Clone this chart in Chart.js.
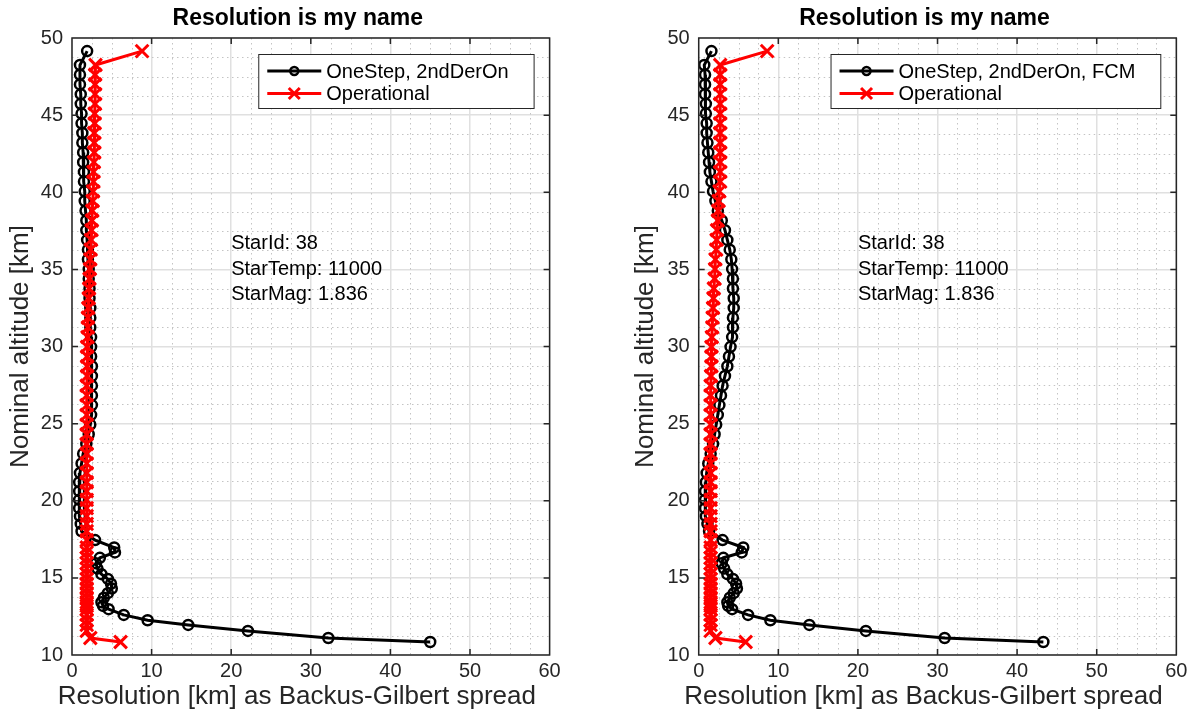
<!DOCTYPE html>
<html lang="en">
<head>
<meta charset="UTF-8">
<title>Resolution is my name</title>
<script src="https://cdn.jsdelivr.net/npm/chart.js@4.4.0/dist/chart.umd.min.js"></script>
<style>
  html, body { margin: 0; padding: 0; background: #fff; }
  .wrap { display: flex; width: 1192px; height: 718px; }
  .panel { width: 596px; height: 718px; }
</style>
</head>
<body>
<div class="wrap">
  <div class="panel"><canvas id="left" width="596" height="718"></canvas></div>
  <div class="panel"><canvas id="right" width="596" height="718"></canvas></div>
</div>
<script>
// tangent altitude grid [km], shared by both retrievals
const altitude = [49.15, 48.25, 47.62, 46.99, 46.36, 45.73, 45.10, 44.47, 43.84, 43.21,
  42.58, 41.95, 41.32, 40.69, 40.06, 39.43, 38.80, 38.17, 37.54, 36.91,
  36.28, 35.65, 35.02, 34.39, 33.76, 33.13, 32.50, 31.87, 31.24, 30.61,
  29.98, 29.35, 28.72, 28.09, 27.46, 26.83, 26.20, 25.57, 24.94, 24.31,
  23.68, 23.05, 22.42, 21.80, 21.20, 20.62, 20.06, 19.52, 19.00, 18.50,
  18.02, 17.45, 16.97, 16.65, 16.30, 15.95, 15.60, 15.24, 14.93, 14.62,
  14.31, 14.01, 13.71, 13.42, 13.18, 12.97, 12.60, 12.25, 11.95, 11.56,
  11.10, 10.84];

// resolution [km], left panel
const oneStepLeft = [1.9, 1.0, 1.0, 1.0, 1.1, 1.1, 1.2, 1.2, 1.3, 1.3,
  1.4, 1.4, 1.5, 1.5, 1.6, 1.6, 1.7, 1.8, 1.8, 1.9,
  2.0, 2.0, 2.1, 2.1, 2.2, 2.2, 2.3, 2.3, 2.3, 2.4,
  2.4, 2.4, 2.5, 2.5, 2.5, 2.5, 2.5, 2.4, 2.3, 2.1,
  1.8, 1.4, 1.2, 1.0, 0.9, 0.9, 0.9, 0.9, 1.0, 1.1,
  1.2, 2.9, 5.3, 5.4, 3.5, 3.0, 3.2, 3.7, 4.5, 4.9,
  5.0, 4.5, 4.0, 3.7, 3.9, 4.6, 6.5, 9.5, 14.6, 22.1,
  32.2, 45.0];
const operationalLeft = [8.8, 2.95, 2.9, 2.9, 2.9, 2.9, 2.85, 2.85, 2.8, 2.8,
  2.8, 2.75, 2.7, 2.7, 2.65, 2.6, 2.55, 2.5, 2.45, 2.4,
  2.35, 2.3, 2.25, 2.2, 2.15, 2.1, 2.05, 2.0, 2.0, 1.95,
  1.9, 1.9, 1.9, 1.9, 1.85, 1.85, 1.85, 1.85, 1.85, 1.85,
  1.85, 1.85, 1.85, 1.85, 1.85, 1.85, 1.85, 1.85, 1.85, 1.85,
  1.85, 1.85, 1.85, 1.85, 1.85, 1.85, 1.85, 1.85, 1.85, 1.85,
  1.85, 1.85, 1.85, 1.85, 1.85, 1.85, 1.85, 1.85, 1.85, 1.85,
  2.3, 6.1];

// resolution [km], right panel (FCM)
const oneStepRight = [1.6, 0.7, 0.8, 0.8, 0.8, 0.9, 0.9, 1.0, 1.0, 1.1,
  1.2, 1.3, 1.4, 1.6, 1.8, 2.1, 2.4, 2.9, 3.3, 3.6,
  3.9, 4.1, 4.2, 4.3, 4.3, 4.4, 4.4, 4.3, 4.3, 4.2,
  4.0, 3.8, 3.6, 3.3, 3.0, 2.8, 2.6, 2.4, 2.2, 2.0,
  1.8, 1.5, 1.2, 1.0, 0.9, 0.8, 0.8, 0.8, 0.9, 1.1,
  1.3, 3.0, 5.6, 5.4, 3.1, 2.9, 3.2, 3.6, 4.3, 4.7,
  4.8, 4.4, 3.9, 3.6, 3.7, 4.2, 6.2, 9.0, 13.9, 21.0,
  30.9, 43.3];
const operationalRight = [8.6, 2.7, 2.7, 2.7, 2.7, 2.7, 2.7, 2.7, 2.7, 2.7,
  2.7, 2.7, 2.7, 2.7, 2.6, 2.5, 2.45, 2.4, 2.3, 2.25,
  2.2, 2.1, 2.05, 2.0, 1.9, 1.85, 1.8, 1.75, 1.7, 1.65,
  1.6, 1.6, 1.6, 1.55, 1.5, 1.5, 1.5, 1.5, 1.5, 1.5,
  1.5, 1.5, 1.5, 1.5, 1.5, 1.5, 1.5, 1.5, 1.5, 1.5,
  1.5, 1.5, 1.5, 1.5, 1.5, 1.5, 1.5, 1.5, 1.5, 1.5,
  1.5, 1.5, 1.5, 1.5, 1.5, 1.5, 1.5, 1.5, 1.5, 1.5,
  2.1, 5.9];

const xRange = [0, 60];
const yRange = [10, 50];
const xMajor = 10, yMajor = 5;
const starInfo = ['StarId: 38', 'StarTemp: 11000', 'StarMag: 1.836'];
const plotTitle = 'Resolution is my name';
const xTitle = 'Resolution [km] as Backus-Gilbert spread';
const yTitle = 'Nominal altitude [km]';

const FONT = '"Liberation Sans", Arial, Helvetica, sans-serif';
const AX = '#262626';

function toPoints(xs) {
  return xs.map((x, i) => ({ x: x, y: altitude[i] }));
}

// minor grid, box with inward ticks, title, x label, text and legend
const matlabAxes = {
  id: 'matlabAxes',
  beforeDatasetsDraw(chart) {
    const { ctx, chartArea: a, scales: { x, y } } = chart;
    ctx.save();
    ctx.strokeStyle = '#c4c4c4';
    ctx.lineWidth = 1;
    ctx.setLineDash([1.5, 3.5]);
    ctx.beginPath();
    for (let v = xRange[0]; v <= xRange[1]; v += xMajor / 4) {
      if (v % xMajor === 0) continue;
      const px = Math.round(x.getPixelForValue(v)) + 0.5;
      ctx.moveTo(px, a.top); ctx.lineTo(px, a.bottom);
    }
    for (let v = yRange[0]; v <= yRange[1]; v += yMajor / 4) {
      if (v % yMajor === 0) continue;
      const py = Math.round(y.getPixelForValue(v)) + 0.5;
      ctx.moveTo(a.left, py); ctx.lineTo(a.right, py);
    }
    ctx.stroke();
    ctx.restore();
  },
  afterDatasetsDraw(chart, args, opts) {
    const { ctx, chartArea: a, scales: { x, y } } = chart;
    ctx.save();
    // box and ticks
    ctx.strokeStyle = AX;
    ctx.lineWidth = 1.5;
    ctx.strokeRect(a.left, a.top, a.right - a.left, a.bottom - a.top);
    ctx.beginPath();
    for (let v = xRange[0] + xMajor; v < xRange[1]; v += xMajor) {
      const px = x.getPixelForValue(v);
      ctx.moveTo(px, a.bottom); ctx.lineTo(px, a.bottom - 6);
      ctx.moveTo(px, a.top); ctx.lineTo(px, a.top + 6);
    }
    for (let v = yRange[0] + yMajor; v < yRange[1]; v += yMajor) {
      const py = y.getPixelForValue(v);
      ctx.moveTo(a.left, py); ctx.lineTo(a.left + 6, py);
      ctx.moveTo(a.right, py); ctx.lineTo(a.right - 6, py);
    }
    ctx.stroke();

    const mid = (a.left + a.right) / 2;
    // title
    ctx.fillStyle = '#000';
    ctx.font = `bold 23px ${FONT}`;
    ctx.textAlign = 'center';
    ctx.textBaseline = 'middle';
    ctx.fillText(plotTitle, mid + opts.titleShift, 19);

    // x label
    ctx.fillStyle = AX;
    ctx.font = `26px ${FONT}`;
    ctx.fillText(xTitle, mid + opts.labelShift, 697);

    // star information
    ctx.fillStyle = '#000';
    ctx.font = `20px ${FONT}`;
    ctx.textAlign = 'left';
    const tx = x.getPixelForValue(20), ty = y.getPixelForValue(35);
    starInfo.forEach((s, i) => ctx.fillText(s, tx, ty + (i - 1) * 25.5));

    // legend
    const sets = chart.data.datasets;
    const textW = Math.max(...sets.map(d => ctx.measureText(d.label).width));
    const w = 68 + textW + 25, h = 54;
    const x0 = a.right - 16 - w, y0 = a.top + 16;
    ctx.fillStyle = '#fff';
    ctx.fillRect(x0, y0, w, h);
    ctx.lineWidth = 1;
    ctx.strokeStyle = AX;
    ctx.strokeRect(x0 + 0.5, y0 + 0.5, w, h);
    sets.forEach((d, i) => {
      const cy = y0 + 17 + i * 22.5;
      ctx.strokeStyle = d.borderColor;
      ctx.lineWidth = d.borderWidth;
      ctx.beginPath();
      ctx.moveTo(x0 + 9, cy); ctx.lineTo(x0 + 63, cy);
      ctx.stroke();
      const mx = x0 + 36;
      ctx.lineWidth = d.pointBorderWidth;
      ctx.beginPath();
      if (d.pointStyle === 'circle') {
        ctx.arc(mx, cy, 4, 0, Math.PI * 2);
      } else {
        const r = 5.5;
        ctx.moveTo(mx - r, cy - r); ctx.lineTo(mx + r, cy + r);
        ctx.moveTo(mx - r, cy + r); ctx.lineTo(mx + r, cy - r);
      }
      ctx.stroke();
      ctx.fillStyle = '#000';
      ctx.fillText(d.label, x0 + 68, cy + 1);
    });
    ctx.restore();
  }
};

function makeChart(id, black, red, blackLabel, pad, yWidth, shifts) {
  return new Chart(document.getElementById(id), {
    type: 'scatter',
    data: {
      datasets: [{
        label: blackLabel,
        data: toPoints(black),
        showLine: true,
        borderColor: '#000000',
        borderWidth: 3,
        pointStyle: 'circle',
        pointRadius: 5,
        pointBorderWidth: 2.5,
        pointBackgroundColor: 'rgba(0,0,0,0)',
        pointBorderColor: '#000000',
        order: 1
      }, {
        label: 'Operational',
        data: toPoints(red),
        showLine: true,
        borderColor: '#ff0000',
        borderWidth: 3,
        pointStyle: 'crossRot',
        pointRadius: 9,
        pointBorderWidth: 3,
        pointBorderColor: '#ff0000',
        order: 0
      }]
    },
    options: {
      responsive: false,
      animation: false,
      devicePixelRatio: 1,
      layout: { padding: { left: pad.left, right: pad.right, top: 38, bottom: 0 } },
      plugins: {
        legend: { display: false },
        tooltip: { enabled: false },
        title: { display: false },
        matlabAxes: shifts
      },
      scales: {
        x: {
          type: 'linear',
          min: xRange[0], max: xRange[1],
          afterFit: s => { s.height = 63; },
          border: { display: false },
          grid: { color: '#e0e0e0', lineWidth: 1.5, drawTicks: false },
          ticks: { stepSize: xMajor, color: AX, padding: 4, font: { family: FONT, size: 20 } }
        },
        y: {
          type: 'linear',
          min: yRange[0], max: yRange[1],
          afterFit: s => { s.width = yWidth; },
          border: { display: false },
          grid: { color: '#e0e0e0', lineWidth: 1.5, drawTicks: false },
          ticks: { stepSize: yMajor, color: AX, padding: 9, font: { family: FONT, size: 20 } },
          title: { display: true, text: yTitle, color: AX, padding: { top: 5, bottom: 0 },
                   font: { family: FONT, size: 26 } }
        }
      }
    },
    plugins: [matlabAxes]
  });
}

makeChart('left', oneStepLeft, operationalLeft, 'OneStep, 2ndDerOn',
  { left: 0, right: 46.4 }, 72, { titleShift: -13, labelShift: -14 });
makeChart('right', oneStepRight, operationalRight, 'OneStep, 2ndDerOn, FCM',
  { left: 29, right: 15.7 }, 73.7, { titleShift: -13, labelShift: -14 });
</script>
</body>
</html>
